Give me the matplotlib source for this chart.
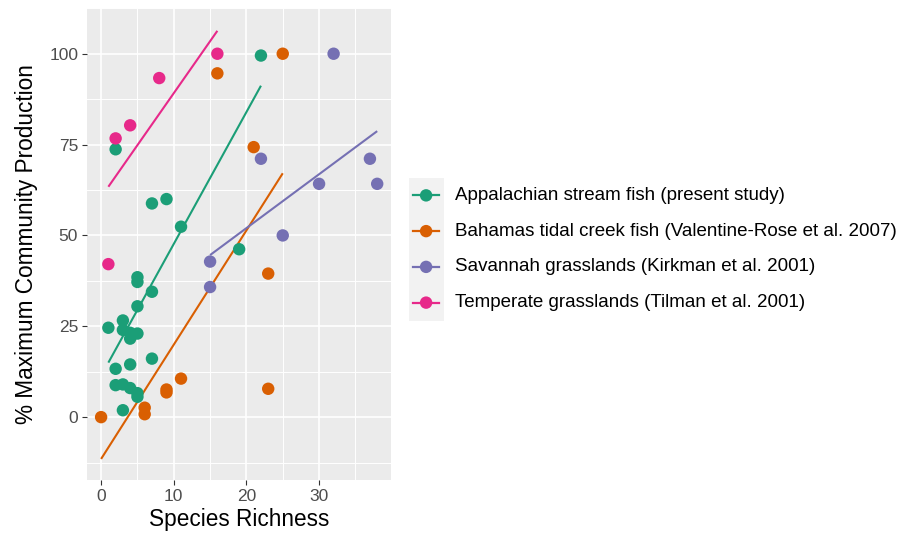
# -*- coding=utf-8 -*-
# 物种丰富度与群落生产力散点图（带各组回归线）

import matplotlib
matplotlib.use('Agg')
import matplotlib.pyplot as plt

# ---------------------------数据---------------------------------
# Appalachian stream fish (present study)
app_x = [22, 2, 7, 9, 11, 19, 5, 5, 7, 5, 3, 1, 3, 4, 5, 4, 7, 4, 2, 2, 3, 4, 5, 5, 3]
app_y = [99.5, 73.7, 58.8, 60.0, 52.4, 46.2, 38.5, 37.2, 34.5, 30.5, 26.6, 24.6,
         24.0, 23.2, 23.0, 21.6, 16.1, 14.5, 13.3, 8.8, 9.0, 8.0, 6.6, 5.6, 1.9]
# Bahamas tidal creek fish
bah_x = [25, 16, 21, 23, 23, 11, 9, 9, 6, 6, 0]
bah_y = [100, 94.6, 74.3, 39.5, 7.8, 10.6, 7.6, 6.8, 2.6, 0.8, 0]
# Savannah grasslands
sav_x = [32, 22, 37, 30, 38, 25, 15, 15]
sav_y = [100, 71.1, 71.1, 64.2, 64.2, 50.0, 42.8, 35.8]
# Temperate grasslands
tem_x = [16, 8, 4, 2, 1]
tem_y = [100, 93.3, 80.3, 76.7, 42.1]

# 回归线两端点
app_fit_x, app_fit_y = [1, 22], [15.0, 91.2]
bah_fit_x, bah_fit_y = [0, 25], [-11.5, 67.1]
sav_fit_x, sav_fit_y = [15, 38], [44.6, 78.7]
tem_fit_x, tem_fit_y = [1, 16], [63.4, 106.3]

labels = ['Appalachian stream fish (present study)',
          'Bahamas tidal creek fish (Valentine-Rose et al. 2007)',
          'Savannah grasslands (Kirkman et al. 2001)',
          'Temperate grasslands (Tilman et al. 2001)']
colors = ['#1B9E77', '#D95F02', '#7570B3', '#E7298A']  # Dark2

x_ticks = [0, 10, 20, 30]
y_ticks = [0, 25, 50, 75, 100]

# ---------------------------参数设置---------------------------------
plt.rcParams['font.family'] = ['Liberation Sans', 'DejaVu Sans']
W, H = 911, 538
fig = plt.figure(figsize=(W / 100, H / 100), dpi=100)
fig.patch.set_facecolor('white')

# 面板位置（像素换算为比例）
ax = fig.add_axes([87.3 / W, 1 - 480 / H, (391 - 87.3) / W, (480 - 8.3) / H])
ax.set_facecolor('#EBEBEB')
for s in ax.spines.values():
    s.set_visible(False)

ax.set_xlim(-1.9, 39.9)
ax.set_ylim(-17.3, 112.3)
ax.set_xticks(x_ticks)
ax.set_yticks(y_ticks)
ax.set_xticks([5, 15, 25, 35], minor=True)
ax.set_yticks([-12.5, 12.5, 37.5, 62.5, 87.5, 112.5], minor=True)
ax.grid(which='major', color='white', lw=1.2)
ax.grid(which='minor', color='white', lw=0.7)
ax.set_axisbelow(True)
ax.tick_params(which='major', length=3.6, width=0.8, color='#333333',
               labelsize=12.5, labelcolor='#4D4D4D', pad=3)
ax.tick_params(which='minor', length=0)

# --------------------------------画散点和回归线---------------------------------
groups = [(app_x, app_y, app_fit_x, app_fit_y),
          (bah_x, bah_y, bah_fit_x, bah_fit_y),
          (sav_x, sav_y, sav_fit_x, sav_fit_y),
          (tem_x, tem_y, tem_fit_x, tem_fit_y)]
for (gx, gy, fx, fy), c in zip(groups, colors):
    ax.scatter(gx, gy, s=80, color=c, edgecolors='none', zorder=3)
    ax.plot(fx, fy, color=c, lw=1.5, zorder=2, solid_capstyle='butt')

ax.set_xlabel('Species Richness', fontsize=16.3, labelpad=3)
ax.set_ylabel('% Maximum Community Production', fontsize=16.3, labelpad=8)

# ---------------------------图例---------------------------------
key_top, key_h = 177.5, 35.75
lax = fig.add_axes([409.3 / W, 1 - (key_top + 4 * key_h) / H, 35 / W, 4 * key_h / H])
lax.set_facecolor('#F2F2F2')
for s in lax.spines.values():
    s.set_visible(False)
lax.set_xticks([])
lax.set_yticks([])
lax.set_xlim(0, 1)
lax.set_ylim(0, 4)
for i, (lab, c) in enumerate(zip(labels, colors)):
    yy = 3.5 - i
    lax.plot([0.1, 0.86], [yy, yy], color=c, lw=1.6)
    lax.scatter([0.48], [yy], s=80, color=c, edgecolors='none', zorder=3)
    fig.text(455 / W, 1 - (key_top + (i + 0.5) * key_h) / H, lab,
             fontsize=13.5, ha='left', va='center', color='black')

plt.savefig('out.png', dpi=100)
